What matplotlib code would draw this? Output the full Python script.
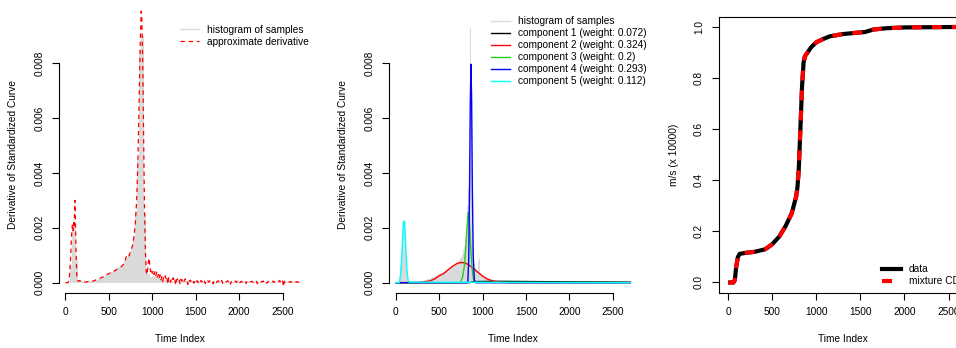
import numpy as np
import matplotlib

matplotlib.use("Agg")
import matplotlib.pyplot as plt
from matplotlib.lines import Line2D

plt.rcParams["font.family"] = ["Liberation Sans", "DejaVu Sans"]
FS = 7.3

# ---------------- panel 1: histogram + approximate derivative ----------------
hist1_edges = np.arange(0, 2725, 25)
hist1_heights = np.array([
    0, 0, 60, 190, 210, 80, 10, 5, 4, 4,
    5, 6, 7, 9, 11, 14, 18, 22, 27, 32,
    36, 40, 45, 50, 56, 62, 70, 80, 90, 105,
    130, 170, 260, 450, 850, 900, 250, 40, 30, 22,
    25, 20, 16, 13, 11, 10, 9, 8, 8, 7,
    7, 6, 6, 6, 6, 5, 5, 5, 5, 5,
    5, 4, 4, 4, 4, 4, 4, 4, 4, 4,
    3, 3, 3, 3, 3, 3, 3, 3, 3, 3,
    3, 3, 3, 3, 3, 2, 2, 2, 2, 2,
    2, 2, 2, 2, 2, 2, 2, 2, 2, 2,
    2, 2, 2, 2, 2, 2, 2, 2,
]) * 1e-5

deriv_head_x = [0, 30, 45, 60, 70, 80, 88, 95, 100, 105, 110, 115, 122, 130, 140,
                150, 165, 180, 200, 230, 260, 290, 320, 350, 380, 410, 440, 470, 500,
                530, 560, 590, 620, 650, 680, 700, 715, 730, 745, 760, 775, 790, 805,
                820, 835, 850, 862, 872, 880, 890, 900, 910, 920, 930, 940]
deriv_head_y = [0, 0, 20, 90, 170, 210, 190, 220, 200, 260, 300, 220, 120, 30, 8,
                5, 8, 3, 4, 2, 4, 5, 6, 10, 12, 18, 22, 30, 32,
                40, 42, 48, 55, 60, 72, 95, 90, 95, 110, 120, 140, 170, 220,
                300, 450, 680, 880, 990, 960, 800, 550, 280, 120, 40, 30]
deriv_tail_x = np.arange(950, 2710, 10)
deriv_tail_y = [
    60, 90, 70, 40, 50, 35, 45, 30, 40, 25,
    38, 20, 30, 15, 28, 10, 22, 5, 18, 12,
    25, 8, 15, -5, 20, 10, 2, 15, 8, 18,
    5, 12, -8, 10, 14, 3, 9, -5, 12, 6,
    10, 0, 8, 14, 4, 7, -6, 11, 5, 9,
    3, 10, 6, -2, 8, 12, 4, 7, 0, 9,
    5, 8, 2, 10, 4, 6, -3, 9, 5, 7,
    2, 6, 8, 3, 5, -4, 7, 4, 6, 1,
    5, 7, 2, 6, 3, 8, -2, 5, 4, 6,
    3, 5, 7, 1, 6, -5, 4, 6, 2, 5,
    4, 6, 1, 5, 3, 7, 0, 4, 5, 2,
    6, 3, 5, -3, 4, 6, 2, 5, 3, 4,
    5, 1, 4, 6, 2, 5, -4, 3, 5, 4,
    2, 5, 3, 6, 1, 4, 5, -2, 3, 5,
    4, 2, 5, 3, 6, 1, 4, 3, 5, 2,
    4, 8, 3, 6, 2, 9, -14, 5, 3, 4,
    2, 4, 5, 1, 3, 4, 2, 5, 3, 1,
    3, 2, 4, 1, 2, 1,
]
deriv_x = np.concatenate([deriv_head_x, deriv_tail_x])
deriv_y = np.concatenate([deriv_head_y, deriv_tail_y]) * 1e-5

# ---------------- panel 2: histogram + mixture components ----------------
hist2_fine_edges = np.arange(0, 1210, 10)
hist2_fine = [
    0, 0, 0, 0, 20, 60, 120, 180, 220, 230, 210, 160, 90, 40, 15, 8,
    6, 5, 5, 4, 5, 4, 4, 5, 5, 6, 5, 6, 7, 7,
    8, 8, 9, 10, 10, 11, 12, 13, 14, 15,
    16, 17, 19, 20, 22, 23, 25, 26, 28, 30,
    31, 34, 33, 36, 38, 37, 40, 42, 45, 44,
    47, 50, 52, 55, 54, 58, 60, 63, 66, 70,
    72, 78, 75, 82, 90, 95, 100, 110, 120, 135,
    160, 200, 280, 340, 450, 620, 930, 750, 320, 120,
    70, 55, 50, 45, 40, 80, 90, 35, 30, 28,
    26, 24, 22, 20, 19, 18, 17, 15, 14, 13,
    12, 11, 11, 10, 10, 9, 9, 8, 8, 8,
]
hist2_coarse_edges = np.arange(1200, 2750, 50)
hist2_coarse = [7, 7, 6, 6, 6, 5, 5, 6, 5, 5, 4, 4, 4, 5, 4,
                3, 3, 3, 3, 3, 2, 2, 2, 2, 2, 2, 2, 1, 1, 1]

comp_labels = ["component 1 (weight: 0.072)", "component 2 (weight: 0.324)",
               "component 3 (weight: 0.2)", "component 4 (weight: 0.293)",
               "component 5 (weight: 0.112)"]
comp_colors = ["black", "#FF0000", "#22CC22", "#0000FF", "#00FFFF"]

comp1_x = [0, 850, 900, 1200, 1600, 2000, 2700]
comp1_y = [0, 0, 4, 5, 4, 3, 2]
comp2_x = [0, 250, 300, 350, 400, 450, 500, 550, 600, 650, 700, 750, 800, 850,
           900, 950, 1000, 1050, 1100, 1150, 1200, 1300, 2700]
comp2_y = [0, 1, 2, 4, 7, 14, 25, 33, 46, 59, 69, 74, 72, 63,
           50, 37, 24, 14, 8, 4, 2, 0, 0]
comp3_x = [0, 740, 750, 770, 790, 805, 820, 835, 850, 865, 880, 895, 910, 2700]
comp3_y = [0, 0, 5, 20, 60, 120, 200, 257, 210, 120, 50, 12, 1, 0]
comp4_x = [0, 820, 830, 840, 850, 858, 866, 874, 882, 892, 905, 920, 2700]
comp4_y = [0, 0, 5, 80, 350, 650, 797, 660, 350, 100, 10, 0, 0]
comp5_x = [0, 40, 50, 60, 70, 80, 90, 100, 110, 120, 130, 140, 150, 2700]
comp5_y = [0, 0, 14, 42, 98, 170, 224, 224, 170, 98, 42, 14, 2, 0]
comps = [(comp1_x, comp1_y), (comp2_x, comp2_y), (comp3_x, comp3_y),
         (comp4_x, comp4_y), (comp5_x, comp5_y)]

# ---------------- panel 3: cumulative curves ----------------
cdf_x = [0, 60, 75, 90, 110, 130, 200, 300, 420, 500, 580, 650, 720, 770, 785,
         800, 820, 838, 855, 870, 900, 940, 1000, 1080, 1150, 1300, 1450, 1550,
         1650, 1800, 2000, 2300, 2700]
cdf_data = [0, 0, 0.01, 0.06, 0.10, 0.112, 0.116, 0.12, 0.13, 0.15, 0.18, 0.22,
            0.27, 0.335, 0.37, 0.44, 0.61, 0.77, 0.86, 0.885, 0.90, 0.92, 0.94,
            0.953, 0.963, 0.972, 0.977, 0.98, 0.99, 0.995, 0.998, 0.999, 1.0]
cdf_mix = list(cdf_data)

W, H = 956, 348
fig = plt.figure(figsize=(W / 100, H / 100), dpi=100)


def px_axes(left, top, right, bottom):
    return fig.add_axes([left / W, 1 - bottom / H, (right - left) / W, (bottom - top) / H])


def r_style(ax, xb, yb, box=False):
    for s in ["top", "right", "left", "bottom"]:
        ax.spines[s].set_visible(box)
    if not box:
        ax.spines["left"].set_visible(True)
        ax.spines["bottom"].set_visible(True)
        ax.spines["left"].set_bounds(*yb)
        ax.spines["bottom"].set_bounds(*xb)
    for s in ax.spines.values():
        s.set_linewidth(0.8)
    ax.tick_params(direction="out", length=5, width=0.8, labelsize=FS, pad=5.5)
    ax.set_xticks([0, 500, 1000, 1500, 2000, 2500])
    for lab in ax.get_yticklabels():
        lab.set_rotation(90)
        lab.set_va("center")


def legend_at(ax, handles, labels, x, y, spacing):
    ax.legend(handles, labels, loc="upper left", bbox_to_anchor=(x / W, 1 - y / H),
              bbox_transform=fig.transFigure, frameon=False, fontsize=FS,
              borderpad=0, borderaxespad=0, handlelength=1.9, handletextpad=0.75,
              labelspacing=spacing, handleheight=0.7)


GRAY = "#DADADA"
YLIM12 = (-0.000365, 0.01013)
XLIM12 = (-74, 2712)

# panel 1
ax1 = px_axes(59, 5, 301, 292.7)
ax1.stairs(hist1_heights, hist1_edges, fill=True, color=GRAY, lw=0)
ax1.plot(deriv_x, deriv_y, color="#FF0000", lw=0.9, linestyle=(0, (3.5, 3)))
ax1.set_xlim(*XLIM12)
ax1.set_ylim(*YLIM12)
ax1.set_yticks([0, 0.002, 0.004, 0.006, 0.008])
ax1.set_yticklabels(["0.000", "0.002", "0.004", "0.006", "0.008"])
r_style(ax1, (0, 2500), (0, 0.008))
legend_at(ax1, [Line2D([], [], color=GRAY, lw=1),
                Line2D([], [], color="#FF0000", lw=0.9, linestyle=(0, (3.5, 3)))],
          ["histogram of samples", "approximate derivative"], 180, 25, 0.17)

# panel 2
ax2 = px_axes(389.3, 5, 631.3, 292.7)
ax2.stairs(np.array(hist2_fine) * 1e-5, hist2_fine_edges, fill=True, color=GRAY, lw=0)
ax2.stairs(np.array(hist2_coarse) * 1e-5, hist2_coarse_edges, fill=True, color=GRAY, lw=0)
for (cx, cy), col in zip(comps, comp_colors):
    ax2.plot(cx, np.array(cy) * 1e-5, color=col, lw=1.0)
ax2.set_xlim(*XLIM12)
ax2.set_ylim(*YLIM12)
ax2.set_yticks([0, 0.002, 0.004, 0.006, 0.008])
ax2.set_yticklabels(["0.000", "0.002", "0.004", "0.006", "0.008"])
r_style(ax2, (0, 2500), (0, 0.008))
legend_at(ax2, [Line2D([], [], color=GRAY, lw=1)] +
          [Line2D([], [], color=c, lw=1.0) for c in comp_colors],
          ["histogram of samples"] + comp_labels, 490.7, 16.5, 0.19)

# panel 3
ax3 = px_axes(718.7, 16.7, 975.7, 292.7)
ax3.plot(cdf_x, cdf_data, color="black", lw=3, solid_capstyle="butt")
ax3.plot(cdf_x, cdf_mix, color="#FF0000", lw=3, linestyle=(0, (2.4, 2.4)))
ax3.set_xlim(-108, 2808)
ax3.set_ylim(-0.04, 1.04)
ax3.set_yticks([0, 0.2, 0.4, 0.6, 0.8, 1.0])
ax3.set_yticklabels(["0.0", "0.2", "0.4", "0.6", "0.8", "1.0"])
r_style(ax3, None, None, box=True)
legend_at(ax3, [Line2D([], [], color="black", lw=3),
                Line2D([], [], color="#FF0000", lw=3, linestyle=(0, (2.4, 2.4)))],
          ["data", "mixture CDF"], 881.7, 264.5, 0.17)

# axis labels
for xc in (180, 513, 843):
    fig.text(xc / W, 1 - 339 / H, "Time Index", ha="center", va="center", fontsize=FS)
for xc, lab in ((13, "Derivative of Standardized Curve"),
                (343.3, "Derivative of Standardized Curve"),
                (674.3, "m/s (x 10000)")):
    fig.text(xc / W, 1 - 154.7 / H, lab, ha="center", va="center", rotation=90, fontsize=FS)

fig.savefig("out.png", dpi=100)
